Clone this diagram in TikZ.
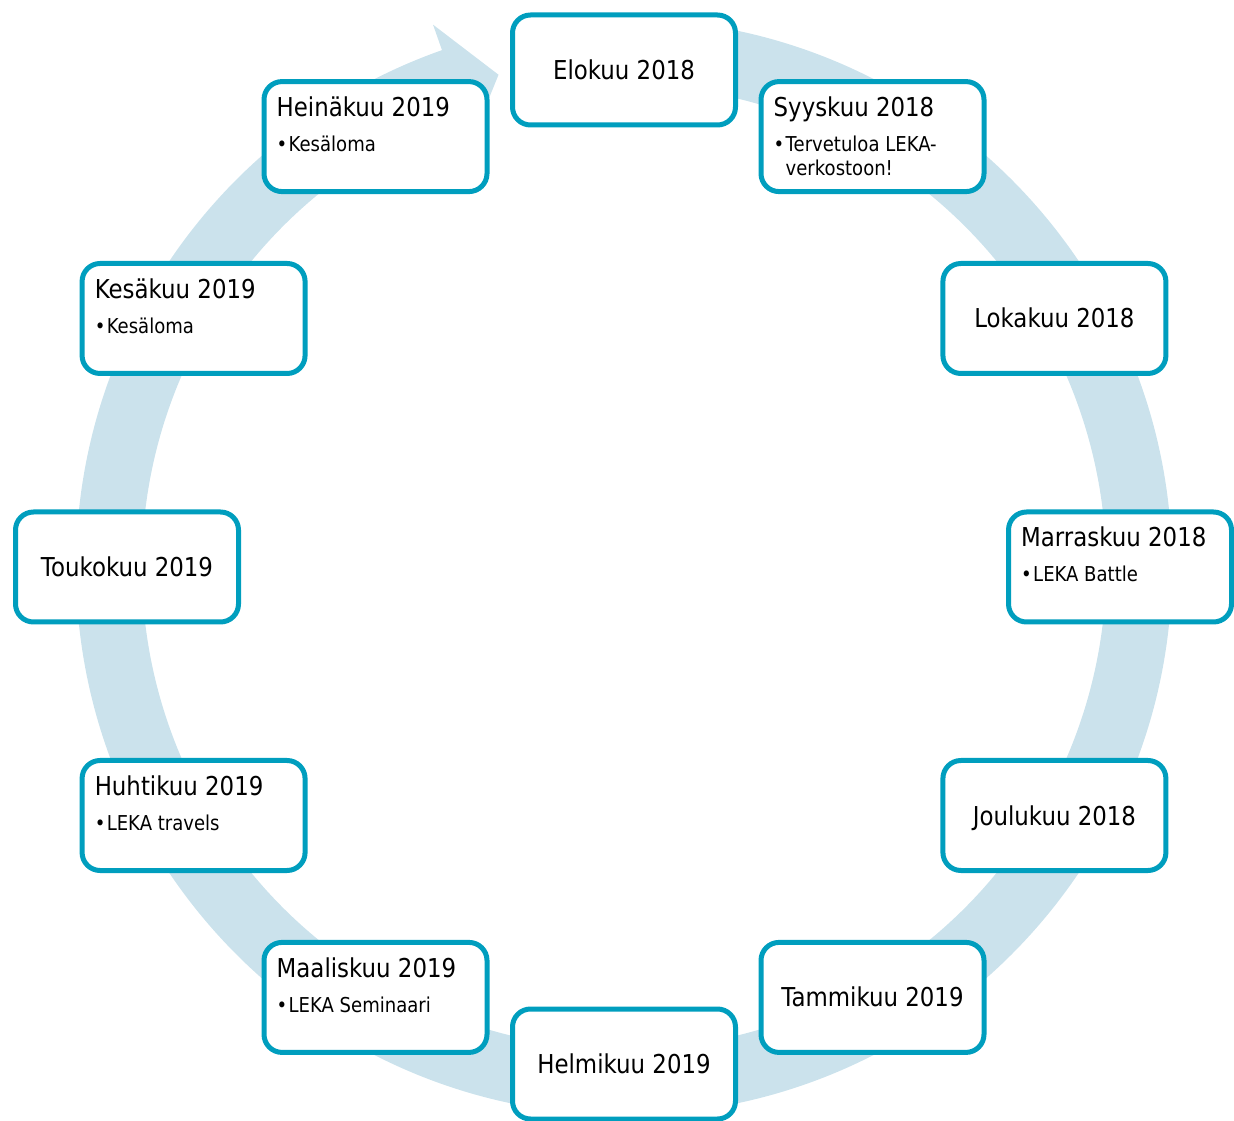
\documentclass[tikz,border=0pt]{standalone}
\usepackage{fontspec}
\setmainfont{DejaVu Sans}[FakeStretch=0.88]
\usetikzlibrary{calc}
\definecolor{boxc}{RGB}{0,158,190}
\definecolor{ringc}{RGB}{203,226,236}
\tikzset{
  box/.style={draw=boxc, line width=5pt, fill=white, rounded corners=18pt,
    minimum width=223pt, minimum height=110pt, inner sep=0pt, outer sep=0pt},
  ctext/.style={font=\fontsize{26}{30}\selectfont, inner sep=0pt, text height=19pt, text depth=0pt},
  ttext/.style={font=\fontsize{26}{30}\selectfont, inner sep=0pt, anchor=base west},
  btext/.style={font=\fontsize{20.5}{25}\selectfont, inner sep=0pt, anchor=base west},
}
\newcommand{\mybul}{\makebox[12pt][l]{\textbullet}}
\begin{document}
\begin{tikzpicture}[x=1pt,y=1pt]
\useasboundingbox (0,0) rectangle (1234,1120);
\coordinate (C) at (624,553);
% ring arrow
\fill[ringc, shift={(624,553)}] (90:548pt) arc[start angle=90, end angle=-250.6, radius=548pt]
  -- (109.4:575pt) -- (104.3:508pt) -- (109.4:455pt) -- (109.4:482pt)
  arc[start angle=-250.6, end angle=90, radius=482pt] -- cycle;
% boxes
\node[box] (elo) at ($(C)+(90:497pt)$) {};
\node[ctext] (elo-t) at (elo.center) {Elokuu 2018};

\node[box] (syy) at ($(C)+(60:497pt)$) {};
\node[ttext] (syy-t) at ($(syy.north west)+(12.5pt,-35pt)$) {Syyskuu 2018};
\node[btext] (syy-b) at ($(syy.north west)+(12.5pt,-70pt)$) {\mybul Tervetuloa LEKA-};
\node[btext] (syy-b2) at ($(syy.north west)+(24.5pt,-94pt)$) {verkostoon!};

\node[box] (lok) at ($(C)+(30:497pt)$) {};
\node[ctext] (lok-t) at (lok.center) {Lokakuu 2018};

\node[box] (mar) at ($(C)+(0:496pt)$) {};
\node[ttext] (mar-t) at ($(mar.north west)+(12.5pt,-35pt)$) {Marraskuu 2018};
\node[btext] (mar-b) at ($(mar.north west)+(12.5pt,-70pt)$) {\mybul LEKA Battle};

\node[box] (jou) at ($(C)+(-30:497pt)$) {};
\node[ctext] (jou-t) at (jou.center) {Joulukuu 2018};

\node[box] (tam) at ($(C)+(-60:497pt)$) {};
\node[ctext] (tam-t) at (tam.center) {Tammikuu 2019};

\node[box] (hel) at ($(C)+(-90:497pt)$) {};
\node[ctext] (hel-t) at (hel.center) {Helmikuu 2019};

\node[box] (maa) at ($(C)+(-120:497pt)$) {};
\node[ttext] (maa-t) at ($(maa.north west)+(12.5pt,-35pt)$) {Maaliskuu 2019};
\node[btext] (maa-b) at ($(maa.north west)+(12.5pt,-70pt)$) {\mybul LEKA Seminaari};

\node[box] (huh) at ($(C)+(-150:497pt)$) {};
\node[ttext] (huh-t) at ($(huh.north west)+(12.5pt,-35pt)$) {Huhtikuu 2019};
\node[btext] (huh-b) at ($(huh.north west)+(12.5pt,-70pt)$) {\mybul LEKA travels};

\node[box] (tou) at ($(C)+(180:497pt)$) {};
\node[ctext] (tou-t) at (tou.center) {Toukokuu 2019};

\node[box] (kes) at ($(C)+(150:497pt)$) {};
\node[ttext] (kes-t) at ($(kes.north west)+(12.5pt,-35pt)$) {Kesäkuu 2019};
\node[btext] (kes-b) at ($(kes.north west)+(12.5pt,-70pt)$) {\mybul Kesäloma};

\node[box] (hei) at ($(C)+(120:497pt)$) {};
\node[ttext] (hei-t) at ($(hei.north west)+(12.5pt,-35pt)$) {Heinäkuu 2019};
\node[btext] (hei-b) at ($(hei.north west)+(12.5pt,-70pt)$) {\mybul Kesäloma};
\end{tikzpicture}
\end{document}
